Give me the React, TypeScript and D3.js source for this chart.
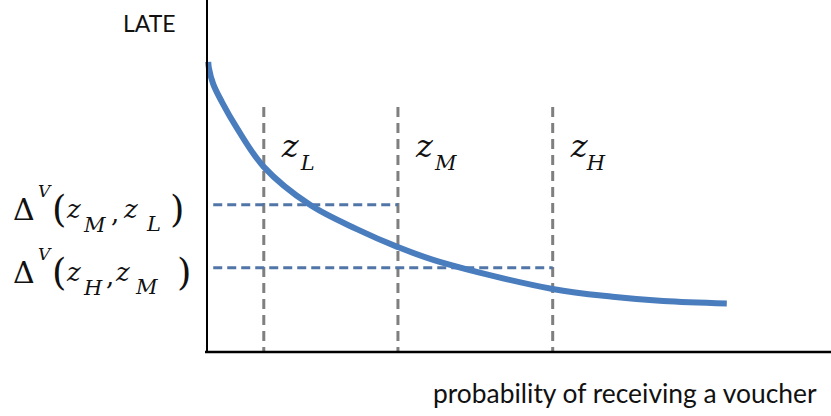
import React from 'react';
import * as d3 from 'd3';

// curve of LATE against probability of receiving a voucher
const probability = [0.002, 0.003, 0.01, 0.024, 0.048, 0.091, 0.165, 0.24, 0.306, 0.373, 0.554, 0.65, 0.731, 0.833];
const late = [0.824, 0.807, 0.761, 0.71, 0.636, 0.526, 0.418, 0.349, 0.298, 0.256, 0.179, 0.157, 0.145, 0.138];

// instrument values z_L, z_M, z_H
const instrumentNames = ['L', 'M', 'H'];
const instrumentValues = [0.091, 0.306, 0.554];

// Wald estimates Δ^V(z_hi, z_lo)
const waldHigh = ['M', 'H'];
const waldLow = ['L', 'M'];
const waldValues = [0.418, 0.239];

const xLabel = 'probability of receiving a voucher';
const yLabel = 'LATE';

const W = 831;
const H = 416;
const serif = "'DejaVu Serif', serif";
const sans = "Lato, 'Open Sans', sans-serif";

const x = d3.scaleLinear().domain([0, 1]).range([207, 831]);
const y = d3.scaleLinear().domain([0, 1]).range([352, 0]);

const guideTop = 0.696;
const waldStart = 0.01;

const points: [number, number][] = probability.map((p, i) => [p, late[i]]);

const line = d3
  .line<[number, number]>()
  .x(d => x(d[0]))
  .y(d => y(d[1]))
  .curve(d3.curveCatmullRom.alpha(0.5));

const mathStyle: React.CSSProperties = { fontFamily: serif };
const italic: React.CSSProperties = { fontFamily: serif, fontStyle: 'italic' };

// horizontal offsets of the pieces, depending on the subscript letters
const WaldLabel = ({ hi, lo, base }: { hi: string; lo: string; base: number }) => {
  const wideHi = hi === 'M';
  const comma = wideHi ? 111 : 106;
  const z2 = wideHi ? 124 : 116;
  const sub2 = wideHi ? 147 : 136;
  const close = wideHi ? 170 : 177;
  return (
    <g fill="#111">
      <text x={13} y={base} fontSize={30} style={mathStyle}>Δ</text>
      <text x={38} y={base - 23} fontSize={17} style={italic}>V</text>
      <text x={52} y={base + 2} fontSize={37} style={mathStyle}>(</text>
      <text x={67} y={base - 2} fontSize={26} style={italic}>z</text>
      <text x={84} y={base + 12} fontSize={21} style={italic}>{hi}</text>
      <text x={comma} y={base + 2} fontSize={26} style={mathStyle}>,</text>
      <text x={z2} y={base - 2} fontSize={26} style={italic}>z</text>
      <text x={sub2} y={base + 11} fontSize={21} style={italic}>{lo}</text>
      <text x={close} y={base + 2} fontSize={37} style={mathStyle}>)</text>
    </g>
  );
};

export default function App() {
  return (
    <svg
      width={W}
      height={H}
      viewBox={`0 0 ${W} ${H}`}
      style={{ position: 'absolute', left: 0, top: 0, background: '#fff' }}
    >
      {/* vertical guides at the instrument values */}
      {instrumentValues.map((z, i) => (
        <line
          key={`v${i}`}
          x1={x(z)}
          x2={x(z)}
          y1={y(guideTop)}
          y2={y(0)}
          stroke="#7f7f7f"
          strokeWidth={3}
          strokeDasharray="10,6"
        />
      ))}

      {/* horizontal Wald levels */}
      {waldValues.map((v, i) => {
        const end = instrumentValues[instrumentNames.indexOf(waldHigh[i])];
        return (
          <line
            key={`h${i}`}
            x1={x(waldStart)}
            x2={x(end)}
            y1={y(v)}
            y2={y(v)}
            stroke="#5275a8"
            strokeWidth={3}
            strokeDasharray="9,5"
          />
        );
      })}

      {/* LATE curve */}
      <path d={line(points) ?? ''} fill="none" stroke="#4a7dbd" strokeWidth={6} />

      {/* axes */}
      <line x1={x(0)} x2={x(0)} y1={0} y2={y(0) + 1} stroke="#000" strokeWidth={2} />
      <line x1={x(0) - 2} x2={W} y1={y(0)} y2={y(0)} stroke="#000" strokeWidth={2.5} />

      {/* instrument labels */}
      {instrumentNames.map((n, i) => (
        <g key={`z${i}`} fill="#111">
          <text x={x(instrumentValues[i]) + 18} y={157} fontSize={32} style={italic}>z</text>
          <text x={x(instrumentValues[i]) + (n === 'H' ? 34 : 37)} y={170} fontSize={21} style={italic}>{n}</text>
        </g>
      ))}

      {/* Wald labels */}
      {waldValues.map((v, i) => (
        <WaldLabel key={`w${i}`} hi={waldHigh[i]} lo={waldLow[i]} base={y(v) + 15} />
      ))}

      <text x={123} y={32} fontSize={23} fill="#111" style={{ fontFamily: sans }}>{yLabel}</text>
      <text x={433} y={403} fontSize={26.4} fill="#111" style={{ fontFamily: sans }}>{xLabel}</text>
    </svg>
  );
}
